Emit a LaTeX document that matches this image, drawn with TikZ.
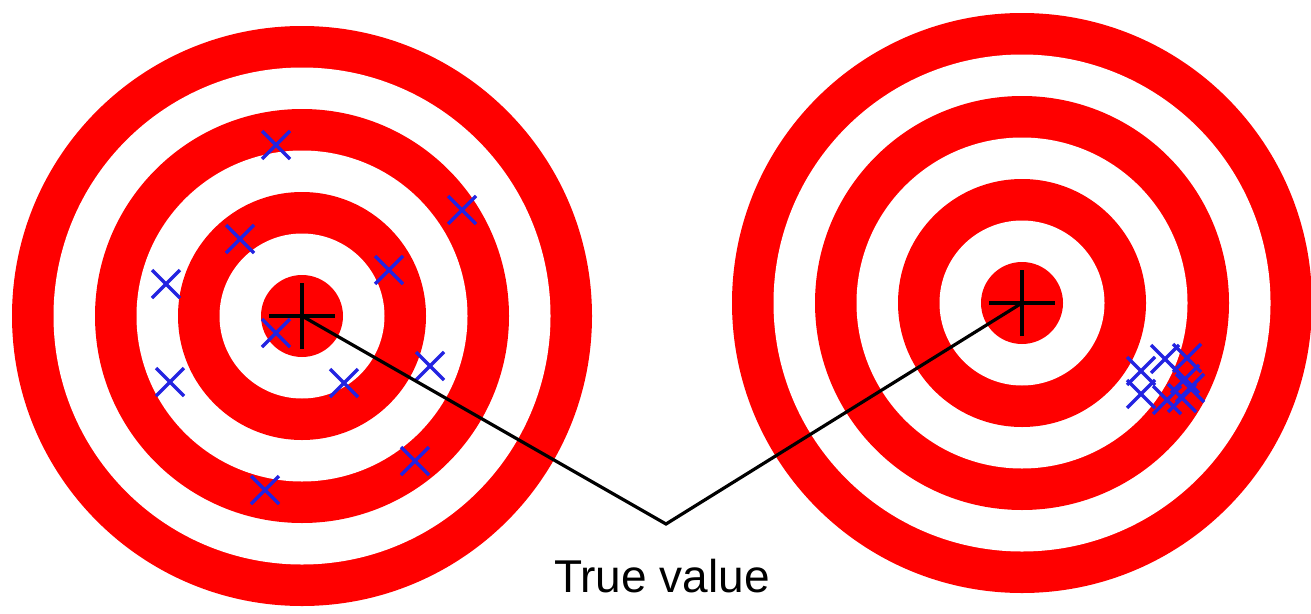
\documentclass[tikz,border=0pt]{standalone}
\usepackage{fontspec}
\setmainfont{Liberation Sans}
\definecolor{tred}{RGB}{255,0,0}
\definecolor{xblue}{RGB}{35,35,225}
\tikzset{
  mark x/.style={xblue, line width=3.4pt},
  plusmark/.style={black, line width=4.8pt},
  conn/.style={black, line width=3.2pt, line join=miter},
}
\newcommand{\target}[1]{%
  \fill[tred]   (#1) circle (290);
  \fill[white]  (#1) circle (248.5);
  \fill[tred]   (#1) circle (207);
  \fill[white]  (#1) circle (165.5);
  \fill[tred]   (#1) circle (124);
  \fill[white]  (#1) circle (82.5);
  \fill[tred]   (#1) circle (41);
}
\newcommand{\xmark}[2]{%
  \draw[mark x] (#1-14,#2-14) -- (#1+14,#2+14);
  \draw[mark x] (#1-14,#2+14) -- (#1+14,#2-14);
}
\begin{document}
\begin{tikzpicture}[x=1pt,y=-1pt]
\useasboundingbox (0,0) rectangle (1311,613);
\fill[white] (0,0) rectangle (1311,613);
\coordinate (c1) at (302,316);
\coordinate (c2) at (1022,303);
\coordinate (v) at (666,524);
\target{c1}
\target{c2}
% left scattered marks
\foreach \px/\py in {276/145, 462/210, 240/239, 389/270, 166/284, 276/333, 430/366, 170/382, 344/383, 415/461, 265/490}
  {\xmark{\px}{\py}}
% right clustered marks
\foreach \px/\py in {1141/371, 1141/394, 1165/359, 1187/358, 1185/379, 1167/400, 1182/398, 1190/388}
  {\xmark{\px}{\py}}
% true value connector
\draw[conn] (c1) -- (v) -- (c2);
% plus signs
\draw[plusmark] ([xshift=-33pt]c1) -- ([xshift=33pt]c1);
\draw[plusmark] ([yshift=-33pt]c1) -- ([yshift=33pt]c1);
\draw[plusmark] ([xshift=-33pt]c2) -- ([xshift=33pt]c2);
\draw[plusmark] ([yshift=-33pt]c2) -- ([yshift=33pt]c2);
\node[anchor=base, inner sep=0pt, font=\fontsize{46}{50}\selectfont] (tv) at (662,592) {True value};
\end{tikzpicture}
\end{document}
